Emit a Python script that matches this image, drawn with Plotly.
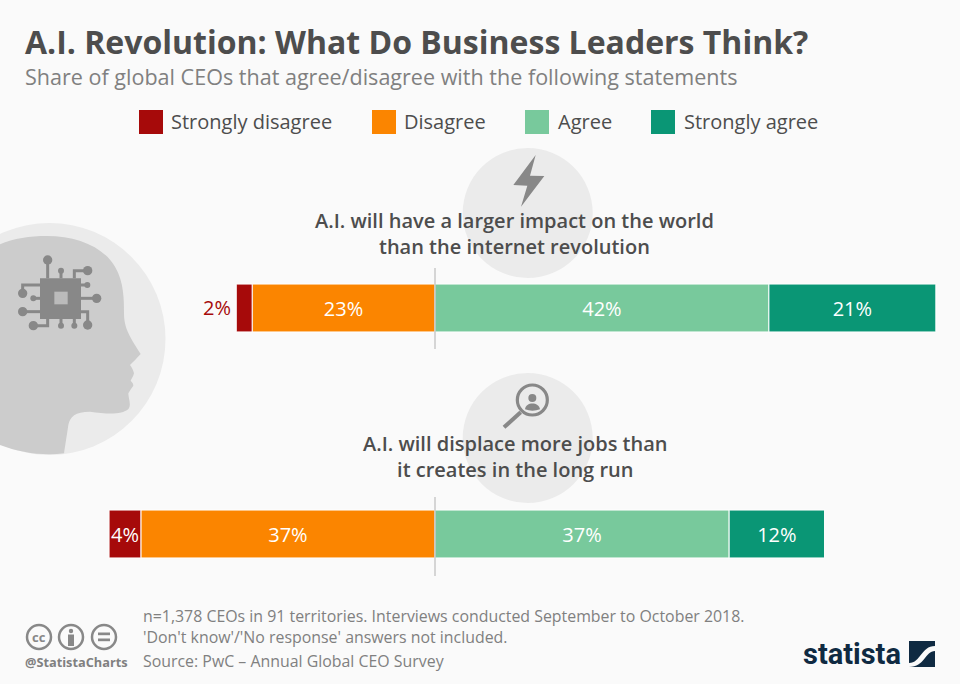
import plotly.graph_objects as go

# chart values, share of CEOs in percent (disagree side is negative)
statements = ["A.I. will have a larger impact", "A.I. will displace more jobs"]
strongly_disagree = [-2, -4]
disagree = [-23, -37]
agree = [42, 37]
strongly_agree = [21, 12]

C_SD = "#a60a0a"
C_D = "#fb8500"
C_A = "#78c99c"
C_SA = "#0a9675"
GREY_TXT = "#4d4d4d"
GREY_SUB = "#808080"
ICON = "#888888"
CIRCLE = "#ebebeb"
BG = "#fafafa"
W, H = 960, 684
PX_PER_PCT = 7.95
ZERO_X = 435


def px(x):
    return x / W


def py(y):
    return 1 - y / H


def path(points, close=True):
    s = "M " + " L ".join(f"{px(x):.5f},{py(y):.5f}" for x, y in points)
    return s + (" Z" if close else "")


def curve(start, segs):
    # cubic bezier path given in picture pixels
    s = f"M {px(start[0]):.5f},{py(start[1]):.5f}"
    for c1, c2, e in segs:
        s += f" C {px(c1[0]):.5f},{py(c1[1]):.5f} {px(c2[0]):.5f},{py(c2[1]):.5f} {px(e[0]):.5f},{py(e[1]):.5f}"
    return s + " Z"


shapes = []
annos = []


def circle(cx, cy, r, fill=None, line=None, lw=0, layer="below"):
    shapes.append(dict(type="circle", xref="paper", yref="paper", layer=layer,
                       x0=px(cx - r), x1=px(cx + r), y0=py(cy + r), y1=py(cy - r),
                       fillcolor=fill or "rgba(0,0,0,0)",
                       line=dict(color=line or "rgba(0,0,0,0)", width=lw)))


def rect(x0, y0, x1, y1, fill, layer="below"):
    shapes.append(dict(type="rect", xref="paper", yref="paper", layer=layer,
                       x0=px(x0), x1=px(x1), y0=py(y1), y1=py(y0),
                       fillcolor=fill, line=dict(width=0)))


def seg(pts, color=ICON, width=2, layer="below"):
    shapes.append(dict(type="path", xref="paper", yref="paper", layer=layer,
                       path=path(pts, close=False), line=dict(color=color, width=width)))


def poly(pts, fill, layer="below"):
    shapes.append(dict(type="path", xref="paper", yref="paper", layer=layer,
                       path=path(pts), fillcolor=fill, line=dict(width=0)))


def blob(d, fill):
    shapes.append(dict(type="path", xref="paper", yref="paper", layer="below",
                       fillcolor=fill, line=dict(width=0), path=d))


def text(x, y, s, size, color, anchor="left", weight=None, family="Open Sans", align=None):
    font = dict(family=family, size=size, color=color)
    if weight:
        font["weight"] = weight
    annos.append(dict(xref="paper", yref="paper", x=px(x), y=py(y), text=s, showarrow=False,
                      xanchor=anchor, yanchor="middle", font=font, borderpad=0, borderwidth=0,
                      align=align or anchor))


# title block
text(25, 42, "A.I. Revolution: What Do Business Leaders Think?", 32, GREY_TXT, weight=700)
text(25, 77, "Share of global CEOs that agree/disagree with the following statements", 21.55, GREY_SUB)

# legend
for x0, x_txt, col, name in [(139, 171, C_SD, "Strongly disagree"), (372, 404, C_D, "Disagree"),
                             (525, 558, C_A, "Agree"), (651, 684, C_SA, "Strongly agree")]:
    rect(x0, 110, x0 + 24, 134, col)
    text(x_txt, 122, name, 20, GREY_TXT)

# head with the chip
circle(49.5, 339, 116, fill=CIRCLE)
z = lambda a, b: (a / 3, 210 + b / 3)
blob(curve(z(0, 103), [
    (z(40, 85), z(90, 78), z(140, 78)),
    (z(230, 78), z(310, 110), z(345, 170)),
    (z(372, 215), z(372, 270), z(372, 310)),
    (z(372, 350), z(385, 375), z(422, 432)),
    (z(410, 445), z(400, 455), z(390, 465)),
    (z(395, 472), z(400, 480), z(402, 490)),
    (z(400, 500), z(395, 505), z(392, 512)),
    (z(398, 518), z(400, 522), z(400, 527)),
    (z(395, 535), z(390, 540), z(385, 550)),
    (z(385, 565), z(395, 585), z(385, 597)),
    (z(365, 615), z(320, 612), z(270, 605)),
    (z(225, 605), z(210, 620), z(205, 645)),
    (z(200, 680), z(195, 710), z(192, 730)),
    (z(130, 738), z(60, 728), z(0, 705)),
]), "#cccccc")
rect(*z(120, 205), *z(243, 327), ICON)
rect(*z(163, 245), *z(203, 283), "#bbbbbb")
for pts, dot, r in [
    ([(143, 205), (143, 150)], (143, 150), 14), ([(183, 205), (183, 182)], (183, 182), 9),
    ([(223, 205), (223, 182), (263, 182)], (263, 182), 14), ([(243, 225), (262, 225)], (262, 225), 9),
    ([(243, 265), (290, 265)], (290, 265), 14), ([(243, 305), (263, 305), (263, 345)], (263, 345), 14),
    ([(223, 327), (223, 347)], (223, 347), 9), ([(183, 327), (183, 347)], (183, 347), 9),
    ([(143, 327), (143, 347), (100, 347)], (100, 347), 14), ([(120, 305), (68, 305)], (68, 305), 14),
    ([(120, 265), (100, 265)], (100, 265), 9), ([(120, 225), (68, 225), (68, 250)], (68, 250), 14),
]:
    seg([z(*p) for p in pts], width=3)
    circle(*z(*dot), r / 3, fill=ICON)

# statement circles and icons
circle(527.7, 213, 65, fill=CIRCLE)
circle(527.7, 438, 65, fill=CIRCLE)
b = lambda a, c: (450 + a / 3, 145 + c / 3)
poly([b(257, 30), b(190, 120), b(232, 122), b(213, 185), b(283, 93), b(240, 92)], ICON)
m = lambda a, c: (450 + a / 3, 370 + c / 3)
circle(*m(247, 90), 15, line=ICON, lw=3.2)
seg([m(212, 127), m(162, 172)], width=4)
circle(*m(247, 84), 4, fill=ICON)
blob(curve(m(225, 118), [(m(227, 95), m(267, 95), m(270, 118)),
                         (m(255, 124), m(240, 124), m(225, 118))]), ICON)

text(514.5, 233.5, "A.I. will have a larger impact on the world<br>than the internet revolution", 20, GREY_TXT,
     "center", weight=600)
text(515, 456.5, "A.I. will displace more jobs than<br>it creates in the long run", 20, GREY_TXT,
     "center", weight=600)

# footer
text(143, 626.5, "n=1,378 CEOs in 91 territories. Interviews conducted September to October 2018.<br>"
                 "'Don't know'/'No response' answers not included.", 15.9, GREY_SUB)
text(143, 661, "Source: PwC – Annual Global CEO Survey", 15.9, GREY_SUB)
text(25, 662, "@StatistaCharts", 12.75, GREY_SUB, weight=700)
for cx in (39, 71, 104):
    circle(cx, 637, 12, line=ICON, lw=2.5)
text(39, 637, "cc", 13, ICON, "center", weight=700)
circle(71, 631, 2.2, fill=ICON)
rect(68, 634.5, 74, 646, ICON)
rect(98, 632.5, 110, 635.2, ICON)
rect(98, 638.5, 110, 641.2, ICON)

# logo
text(803, 654, "statista", 29, "#0f2a42", weight=700, family="Roboto")
rect(909, 641, 935, 667, "#0f2a42")
blob(curve((909, 663), [((921, 663), (921, 646), (935, 646)),
                        ((935, 648), (935, 650), (935, 651)),
                        ((925, 651), (925, 667), (909, 667))]), BG)

fig = go.Figure()
for name, vals, col in [("Disagree", disagree, C_D), ("Strongly disagree", strongly_disagree, C_SD),
                        ("Agree", agree, C_A), ("Strongly agree", strongly_agree, C_SA)]:
    labels = [f"{abs(v)}%" if abs(v) > 2 else "" for v in vals]
    fig.add_trace(go.Bar(y=statements, x=vals, name=name, orientation="h", width=0.212,
                         marker=dict(color=col, line=dict(color="white", width=1)),
                         text=labels, textposition="inside", insidetextanchor="middle",
                         textangle=0, constraintext="none",
                         insidetextfont=dict(family="Open Sans", size=20, color="white"),
                         hoverinfo="name+x"))

# the 2% label does not fit in its segment
annos.append(dict(xref="x", yref="y", x=disagree[0] + strongly_disagree[0], y=statements[0], text="2%",
                  showarrow=False, xanchor="right", xshift=-3, yshift=1,
                  font=dict(family="Open Sans", size=20, color=C_SD)))

# vertical zero lines
for y0, y1 in [(268, 349), (497, 576)]:
    shapes.append(dict(type="line", xref="x", yref="paper", x0=0, x1=0, y0=py(y1), y1=py(y0),
                       layer="above", line=dict(color="#b0b0b0", width=1)))

fig.update_layout(
    width=W, height=H, margin=dict(l=0, r=0, t=0, b=0),
    barmode="relative", showlegend=False,
    paper_bgcolor=BG, plot_bgcolor="rgba(0,0,0,0)",
    shapes=shapes, annotations=annos,
    xaxis=dict(range=[-ZERO_X / PX_PER_PCT, (W - ZERO_X) / PX_PER_PCT], visible=False),
    yaxis=dict(range=[(H - 308) / 226, -308 / 226], visible=False,
               categoryorder="array", categoryarray=statements),
)
# page margin would push the figure 8px off
fig.write_html("out.html", config=dict(displayModeBar=False), post_script="document.body.style.margin='0';")
